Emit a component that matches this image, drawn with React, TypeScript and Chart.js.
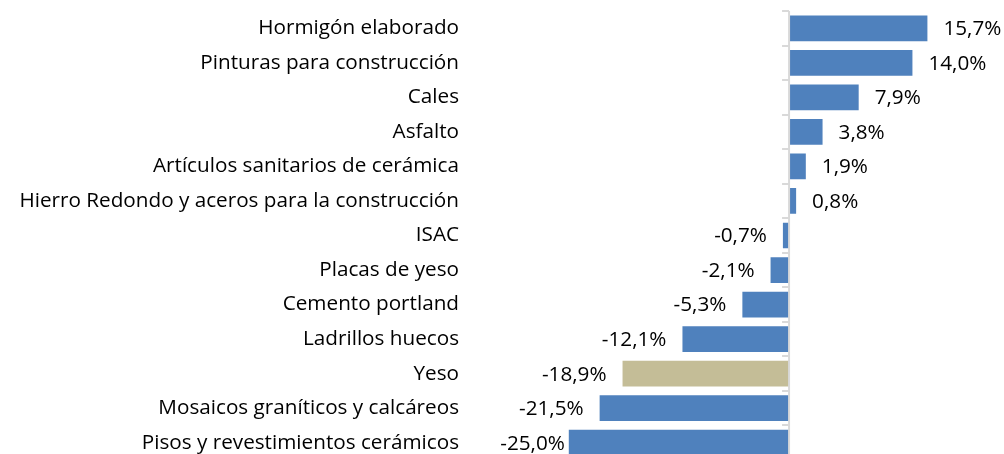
import React, { useEffect, useRef } from "react";
import { Chart, registerables } from "chart.js";

Chart.register(...registerables);

const categories: string[] = [
  "Hormigón elaborado",
  "Pinturas para construcción",
  "Cales",
  "Asfalto",
  "Artículos sanitarios de cerámica",
  "Hierro Redondo y aceros para la construcción",
  "ISAC",
  "Placas de yeso",
  "Cemento portland",
  "Ladrillos huecos",
  "Yeso",
  "Mosaicos graníticos y calcáreos",
  "Pisos y revestimientos cerámicos",
];

const values: number[] = [15.7, 14.0, 7.9, 3.8, 1.9, 0.8, -0.7, -2.1, -5.3, -12.1, -18.9, -21.5, -25.0];

const highlighted: string[] = ["Yeso"];

const BLUE = "#4F81BD";
const TAN = "#C4BD97";
const FONT = "'Open Sans'";
const FONT_SIZE = 20.7;

const fmt = (v: number) => v.toFixed(1).replace(".", ",") + "%";

const axisPlugin = {
  id: "zeroAxis",
  afterDatasetsDraw(chart: any) {
    const { ctx, chartArea, scales } = chart;
    const x0 = scales.x.getPixelForValue(0);
    const y = scales.y;
    ctx.save();
    ctx.strokeStyle = "#D9D9D9";
    ctx.lineWidth = 2;
    ctx.beginPath();
    ctx.moveTo(x0, chartArea.top);
    ctx.lineTo(x0, chartArea.bottom);
    ctx.stroke();
    for (let i = 0; i <= categories.length; i++) {
      const py = Math.round(y.getPixelForValue(i - 0.5));
      ctx.beginPath();
      ctx.moveTo(x0 - 7, py);
      ctx.lineTo(x0, py);
      ctx.stroke();
    }
    ctx.restore();
  },
};

const labelPlugin = {
  id: "valueLabels",
  afterDatasetsDraw(chart: any) {
    const { ctx, chartArea } = chart;
    const meta = chart.getDatasetMeta(0);
    ctx.save();
    ctx.font = `${FONT_SIZE}px ${FONT}`;
    ctx.fillStyle = "#000000";
    ctx.textBaseline = "middle";
    const gap = 16;
    const rightBound = chart.width - 2;
    const leftBound = chartArea.left + 2;
    meta.data.forEach((bar: any, i: number) => {
      const v = values[i];
      const text = fmt(v);
      const w = ctx.measureText(text).width;
      let xStart: number;
      if (v >= 0) {
        xStart = bar.x + gap;
        if (xStart + w > rightBound) xStart = rightBound - w;
      } else {
        xStart = bar.x - gap - w;
        if (xStart < leftBound) xStart = leftBound;
      }
      ctx.textAlign = "left";
      ctx.fillText(text, xStart, bar.y + 1);
    });
    ctx.restore();
  },
};

export default function App() {
  const ref = useRef<HTMLCanvasElement | null>(null);

  useEffect(() => {
    if (!ref.current) return;
    const chart = new Chart(ref.current, {
      type: "bar",
      data: {
        labels: categories,
        datasets: [
          {
            data: values,
            backgroundColor: categories.map((c) => (highlighted.includes(c) ? TAN : BLUE)),
            borderWidth: 0,
            categoryPercentage: 1,
            barPercentage: 0.745,
          },
        ],
      },
      options: {
        indexAxis: "y",
        animation: false,
        responsive: false,
        maintainAspectRatio: false,
        layout: { padding: { top: 11, bottom: 2, left: 0, right: 38.7 } },
        plugins: {
          legend: { display: false },
          tooltip: { enabled: false },
          title: { display: false },
        },
        scales: {
          x: { type: "linear", min: -33, max: 20, display: false },
          y: {
            type: "category",
            offset: true,
            grid: { display: false, drawTicks: false },
            border: { display: false },
            ticks: {
              color: "#000000",
              font: { family: FONT, size: FONT_SIZE },
              padding: 39.3,
              autoSkip: false,
            },
            afterFit: (scale: any) => {
              scale.width = 498.3;
              scale.paddingTop = 0;
              scale.paddingBottom = 0;
            },
          },
        },
      },
      plugins: [axisPlugin, labelPlugin],
    });
    return () => chart.destroy();
  }, []);

  return (
    <div style={{ position: "fixed", left: 0, top: 0, width: 1004, height: 454, overflow: "hidden", background: "#ffffff" }}>
      <canvas ref={ref} width={1004} height={462} style={{ width: 1004, height: 462, display: "block" }} />
    </div>
  );
}
